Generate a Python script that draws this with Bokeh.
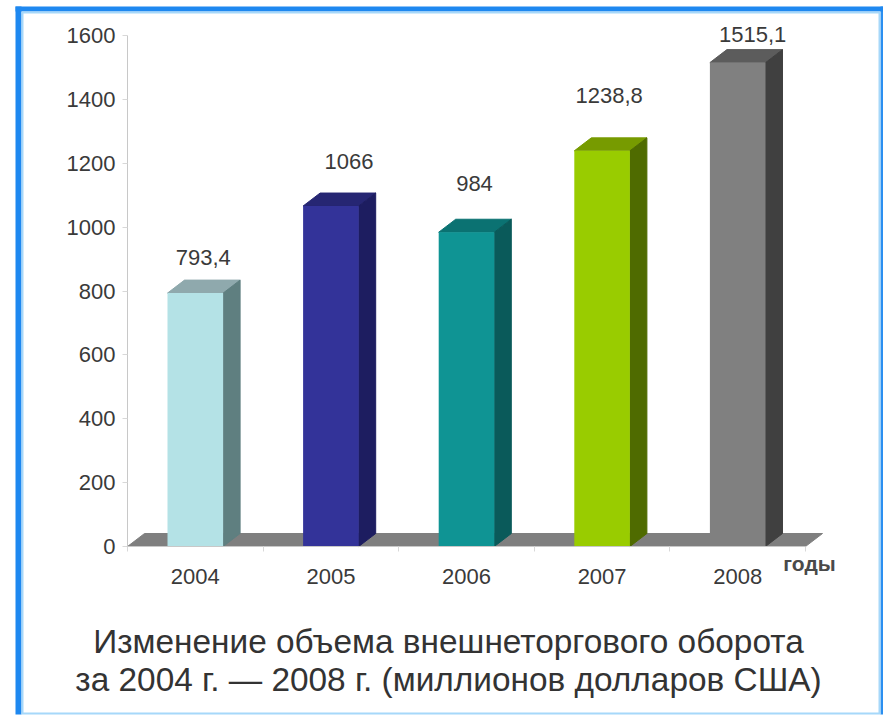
from bokeh.plotting import figure
from bokeh.models import Range1d, FixedTicker, LinearAxis, ColumnDataSource
from bokeh.core.properties import value
from bokeh.embed import file_html
from bokeh.resources import INLINE

years = ["2004", "2005", "2006", "2007", "2008"]
values = [793.4, 1066, 984, 1238.8, 1515.1]
labels = ["793,4", "1066", "984", "1238,8", "1515,1"]
front = ["#b4e2e6", "#333399", "#0f9494", "#99cc00", "#808080"]
side = ["#5f7f80", "#1d1d60", "#0a5a5a", "#4f6b00", "#404040"]
top = ["#8fa9ad", "#262673", "#0b7272", "#779b00", "#5c5c5c"]
title_lines = ["Изменение объема внешнеторгового оборота",
               "за 2004 г. — 2008 г. (миллионов долларов США)"]
unit_label = "годы"
y_ticks = [0, 200, 400, 600, 800, 1000, 1200, 1400, 1600]

FONT = "Liberation Sans"
TXT = "#3a3a3a"
WIDTH, HEIGHT = 883, 715
X0, Y0 = 127, 546            # pixel position of the axes origin
PX_X = 135.6
PX_Y = 511 / 1600
HALF = 0.205
DX = 17 / PX_X
DY = 13 / PX_Y


def dx(px):
    return (px - X0) / PX_X


def dy(px):
    return (Y0 - px) / PX_Y


p = figure(width=WIDTH, height=HEIGHT, output_backend="svg", toolbar_location=None,
           x_range=Range1d(dx(0), dx(WIDTH)), y_range=Range1d(dy(HEIGHT), dy(0)),
           x_axis_type=None, y_axis_type=None,
           min_border=0, background_fill_color="#ffffff", border_fill_color="#ffffff",
           outline_line_color=None)

# picture frame: bands given as left, right, top, bottom in pixels
bands = [
    (15, 21, 6, 714, "#1e88f0"), (21, 23, 12, 713, "#a6d8fa"),
    (880, 883, 6, 714, "#2b8ff0"), (878, 880, 12, 713, "#a6d8fa"),
    (15, 883, 6, 11, "#1e88f0"), (21, 880, 11, 13, "#a6d8fa"),
    (21, 880, 712, 714, "#a6d8fa"),
]
p.quad(left=[dx(b[0]) for b in bands], right=[dx(b[1]) for b in bands],
       top=[dy(b[2]) for b in bands], bottom=[dy(b[3]) for b in bands],
       fill_color=[b[4] for b in bands], line_color=None)

# floor
p.patch([0, DX, 5 + DX, 5], [0, DY, DY, 0], fill_color="#7f7f7f", line_color="#7f7f7f")

xc = [i + 0.5 for i in range(5)]
p.patches(xs=[[x - HALF, x + HALF, x + HALF + DX, x - HALF + DX] for x in xc],
          ys=[[v, v, v + DY, v + DY] for v in values], fill_color=top, line_color=top)
p.patches(xs=[[x + HALF, x + HALF + DX, x + HALF + DX, x + HALF] for x in xc],
          ys=[[0, DY, v + DY, v] for v in values], fill_color=side, line_color=side)
p.vbar(x=xc, bottom=0, top=values, width=2 * HALF, fill_color=front, line_color=None)

src = ColumnDataSource(dict(x=xc, y=values, t=labels,
                            ox=[8, 18, 8, 7, 15],
                            oy=[-36, -45, -49, -55, -28]))
p.text(x="x", y="y", text="t", source=src, x_offset="ox", y_offset="oy",
       text_align="center", text_baseline="middle",
       text_font=value(FONT), text_font_size="22px", text_color=TXT)

ya = LinearAxis(fixed_location=0, bounds=(0, 1600), ticker=FixedTicker(ticks=y_ticks))
ya.axis_line_color = "#c8c8c8"
ya.major_tick_line_color = "#d8d8d8"
ya.major_tick_out = 5
ya.major_tick_in = 0
ya.minor_tick_line_color = None
ya.major_label_standoff = 7
ya.major_label_text_font = FONT
ya.major_label_text_font_size = "22px"
ya.major_label_text_color = TXT
p.add_layout(ya, "left")

xa = LinearAxis(fixed_location=0, bounds=(0, 5),
                ticker=FixedTicker(ticks=xc, minor_ticks=[0, 1, 2, 3, 4, 5]))
xa.major_label_overrides = {x: y for x, y in zip(xc, years)}
xa.axis_line_color = "#c8c8c8"
xa.major_tick_line_color = None
xa.minor_tick_line_color = "#d8d8d8"
xa.minor_tick_out = 5
xa.minor_tick_in = 0
xa.major_label_standoff = 16
xa.major_label_text_font = FONT
xa.major_label_text_font_size = "22px"
xa.major_label_text_color = TXT
p.add_layout(xa, "below")

p.text(x=[dx(809)], y=[dy(563)], text=[unit_label], text_align="center", text_baseline="middle",
       text_font=value(FONT), text_font_size="21px", text_font_style="bold", text_color="#4a4a4a")
p.text(x=[dx(448), dx(448)], y=[dy(641), dy(679)], text=title_lines,
       text_align="center", text_baseline="middle",
       text_font=value(FONT), text_font_size="33.4px", text_color="#333333")

open("out.html", "w").write(file_html(p, INLINE))
